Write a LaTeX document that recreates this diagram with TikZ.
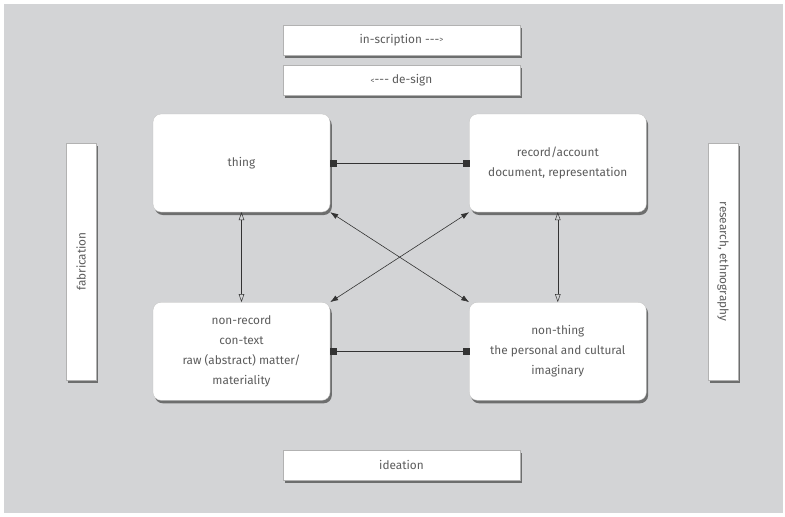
\documentclass[tikz,border=0pt]{standalone}
\usepackage{fontspec}
\setmainfont{Fira Sans}
\usepackage{tikz}
\usetikzlibrary{positioning, arrows.meta, shadows}
\definecolor{bggray}{HTML}{D3D4D6}
\definecolor{txtgray}{HTML}{5C5C5C}
\definecolor{linegray}{HTML}{333333}
\tikzstyle{card} = [rectangle, rounded corners=8pt, fill=white, draw=gray!50, line width=0.3pt, minimum width=177pt, minimum height=98pt, align=center, text=txtgray, font=\fontsize{11.8}{20}\selectfont, drop shadow={shadow xshift=1.8pt, shadow yshift=-3pt, opacity=0.75, fill=black!70}]
\tikzstyle{bar} = [rectangle, fill=white, draw=gray!60, line width=0.3pt, align=center, text=txtgray, font=\fontsize{11.8}{20}\selectfont, drop shadow={shadow xshift=1.8pt, shadow yshift=-3pt, opacity=0.75, fill=black!70}]
\tikzstyle{hbar} = [bar, minimum width=237pt, minimum height=30pt]
\tikzstyle{vbar} = [bar, minimum width=237pt, minimum height=30pt]
\tikzstyle{sqline} = [draw=linegray, line width=0.6pt, {Square[length=6pt,width=6.5pt]}-{Square[length=6pt,width=6.5pt]}]
\tikzstyle{openline} = [draw=linegray, line width=0.5pt, {Triangle[open,length=8pt,width=5.5pt]}-{Triangle[open,length=8pt,width=5.5pt]}]
\tikzstyle{diag} = [draw=linegray, line width=0.6pt, {Latex[length=8pt,width=5.5pt]}-{Latex[length=8pt,width=5.5pt]}]
\begin{document}
\begin{tikzpicture}[x=1pt, y=1pt]
        \useasboundingbox (0,0) rectangle (785,-517);
        \fill[bggray] (4,-4) rectangle (783,-513);
        % the four corners
        \node[card] (thing) at (241.5,-163) {thing};
        \node[card, right=139pt of thing] (record) {record/account\\document, representation};
        \node[card, below=90pt of thing] (nonrec) {non-record\\con-text\\raw (abstract) matter/\\materiality};
        \node[card, below=90pt of record] (nonthing) {non-thing\\the personal and cultural\\imaginary};
        % the bars round them
        \node[hbar] (inscr) at (401.5,-40) {in-scription -{}-{}-{\fontsize{8}{8}\selectfont\raisebox{0.5pt}{>}}};
        \node[hbar, below=10pt of inscr] (design) {{\fontsize{8}{8}\selectfont\raisebox{0.5pt}{<}}-{}-{}- de-sign};
        \node[hbar] (ideation) at (401.5,-465) {ideation};
        \node[vbar, rotate=90] (fabr) at (81,-261.5) {fabrication};
        \node[vbar, rotate=-90] (resea) at (723,-261.5) {research, ethnography};
        \draw[sqline] (thing) -- (record);
        \draw[sqline] (nonrec) -- (nonthing);
        \draw[openline] (thing) -- (nonrec);
        \draw[openline] (record) -- (nonthing);
        \draw[diag] (thing.south east) -- (nonthing.north west);
        \draw[diag] (record.south west) -- (nonrec.north east);
\end{tikzpicture}
\end{document}
